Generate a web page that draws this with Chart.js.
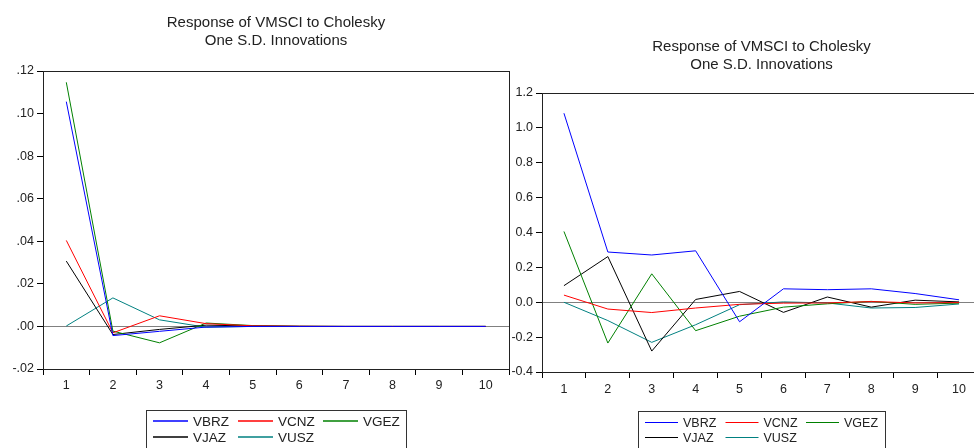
<!DOCTYPE html>
<html>
<head>
<meta charset="utf-8">
<script src="https://cdn.jsdelivr.net/npm/chart.js@4.4.0/dist/chart.umd.min.js"></script>
<style>
  html, body { margin: 0; padding: 0; background: #fff; overflow: hidden; width: 974px; height: 448px; }
  canvas { position: absolute; top: 0; }
  #left { left: 0; }
  #right { left: 490px; }
</style>
</head>
<body>
<canvas id="left" width="520" height="448"></canvas>
<canvas id="right" width="500" height="448"></canvas>
<script>
// ---------- DATA ----------
const categories = ['1', '2', '3', '4', '5', '6', '7', '8', '9', '10'];
const seriesNames = ['VBRZ', 'VCNZ', 'VGEZ', 'VJAZ', 'VUSZ'];
const titleLines = ['Response of VMSCI to Cholesky', 'One S.D. Innovations'];

// Left panel
const leftVBRZ = [0.1056, -0.0043, -0.0023, -0.0003, 0.0000, 0.0000, 0.0000, 0.0000, 0.0000, 0.0000];
const leftVCNZ = [0.0404, -0.0030, 0.0050, 0.0013, 0.0003, 0.0001, 0.0000, 0.0000, 0.0000, 0.0000];
const leftVGEZ = [0.1147, -0.0022, -0.0077, 0.0016, 0.0004, 0.0001, 0.0000, 0.0000, 0.0000, 0.0000];
const leftVJAZ = [0.0307, -0.0038, -0.0014, 0.0006, 0.0002, 0.0000, 0.0000, 0.0000, 0.0000, 0.0000];
const leftVUSZ = [0.0002, 0.0134, 0.0031, -0.0004, 0.0000, 0.0000, 0.0000, 0.0000, 0.0000, 0.0000];
const leftYTickValues = [-0.02, 0.00, 0.02, 0.04, 0.06, 0.08, 0.10, 0.12];
const leftYTickLabels = ['-.02', '.00', '.02', '.04', '.06', '.08', '.10', '.12'];

// Right panel
const rightVBRZ = [1.084, 0.288, 0.271, 0.295, -0.112, 0.077, 0.072, 0.077, 0.050, 0.014];
const rightVCNZ = [0.041, -0.039, -0.059, -0.033, -0.012, -0.005, -0.004, 0.004, -0.004, -0.002];
const rightVGEZ = [0.406, -0.234, 0.163, -0.163, -0.080, -0.028, -0.009, 0.005, -0.012, -0.005];
const rightVJAZ = [0.095, 0.262, -0.280, 0.016, 0.062, -0.058, 0.030, -0.028, 0.012, 0.002];
const rightVUSZ = [0.000, -0.105, -0.230, -0.129, -0.014, 0.002, -0.004, -0.033, -0.030, -0.010];
const rightYTickValues = [-0.4, -0.2, 0.0, 0.2, 0.4, 0.6, 0.8, 1.0, 1.2];
const rightYTickLabels = ['-0.4', '-0.2', '0.0', '0.2', '0.4', '0.6', '0.8', '1.0', '1.2'];

const seriesColors = ['#0000ff', '#ff0000', '#008000', '#000000', '#008080'];

// ---------- PLUGINS ----------
const FONT = '"Liberation Sans", Arial, sans-serif';

const framePlugin = {
  id: 'frame',
  afterDraw(chart) {
    const a = chart.chartArea, ctx = chart.ctx;
    ctx.save();
    ctx.strokeStyle = '#222';
    ctx.lineWidth = 1;
    ctx.strokeRect(Math.round(a.left) + 0.5, Math.round(a.top) + 0.5,
                   Math.round(a.right - a.left), Math.round(a.bottom - a.top));
    ctx.restore();
  }
};

const titlePlugin = {
  id: 'eviewsTitle',
  afterDraw(chart, args, opts) {
    const a = chart.chartArea, ctx = chart.ctx;
    const cx = (a.left + a.right) / 2;
    ctx.save();
    ctx.fillStyle = '#222';
    ctx.font = opts.size + 'px ' + FONT;
    ctx.textAlign = 'center';
    ctx.textBaseline = 'alphabetic';
    opts.lines.forEach((t, i) => ctx.fillText(t, cx, opts.baseline + i * opts.lineGap));
    ctx.restore();
  }
};

const legendPlugin = {
  id: 'eviewsLegend',
  afterDraw(chart, args, o) {
    const ctx = chart.ctx;
    ctx.save();
    ctx.strokeStyle = '#333';
    ctx.lineWidth = 1;
    ctx.strokeRect(o.boxLeft + 0.5, o.boxTop + 0.5, o.boxWidth, 60);
    ctx.font = o.size + 'px ' + FONT;
    ctx.fillStyle = '#222';
    ctx.textAlign = 'left';
    ctx.textBaseline = 'alphabetic';
    chart.data.datasets.forEach((ds, i) => {
      const col = i % 3, row = Math.floor(i / 3);
      const x = o.x0 + col * o.colGap;
      const ly = o.lineY[row];
      ctx.strokeStyle = ds.borderColor;
      ctx.lineWidth = o.lineWidth;
      ctx.beginPath();
      ctx.moveTo(x, ly);
      ctx.lineTo(x + o.lineLen, ly);
      ctx.stroke();
      ctx.fillText(ds.label, x + o.textOff, o.textY[row]);
    });
    ctx.restore();
  }
};

function makeDatasets(arrs) {
  return arrs.map((d, i) => ({
    label: seriesNames[i],
    data: d,
    borderColor: seriesColors[i],
    backgroundColor: seriesColors[i],
    borderWidth: 1,
    pointRadius: 0,
    tension: 0,
    fill: false
  }));
}

function makeChart(id, cfg) {
  return new Chart(document.getElementById(id), {
    type: 'line',
    data: { labels: categories, datasets: makeDatasets(cfg.series) },
    options: {
      responsive: false,
      animation: false,
      devicePixelRatio: 1,
      layout: { padding: cfg.padding },
      plugins: {
        legend: { display: false },
        title: { display: false },
        tooltip: { enabled: false },
        eviewsTitle: cfg.title,
        eviewsLegend: cfg.legend
      },
      scales: {
        x: {
          type: 'category',
          offset: true,
          grid: { offset: true, drawOnChartArea: false, drawTicks: true, tickLength: 6, tickColor: '#000' },
          border: { display: false },
          ticks: { color: '#222', font: { family: FONT, size: cfg.tickSize }, padding: cfg.xPad, maxRotation: 0, autoSkip: false },
          afterFit(s) { s.height = 30; }
        },
        y: {
          min: cfg.yValues[0],
          max: cfg.yValues[cfg.yValues.length - 1],
          afterBuildTicks(s) { s.ticks = cfg.yValues.map(v => ({ value: v })); },
          grid: {
            drawOnChartArea: true,
            drawTicks: true,
            tickLength: 6,
            tickColor: '#000',
            color: c => (c.tick && Math.abs(c.tick.value) < 1e-9) ? '#808080' : 'rgba(0,0,0,0)',
            lineWidth: 1
          },
          border: { display: false },
          ticks: {
            color: '#222',
            font: { family: FONT, size: cfg.tickSize },
            padding: 3,
            callback: (v, i) => cfg.yLabels[i]
          },
          afterFit(s) { s.width = cfg.yWidth; }
        }
      }
    },
    plugins: [framePlugin, titlePlugin, legendPlugin]
  });
}

makeChart('left', {
  series: [leftVBRZ, leftVCNZ, leftVGEZ, leftVJAZ, leftVUSZ],
  yValues: leftYTickValues,
  yLabels: leftYTickLabels,
  yWidth: 43,
  tickSize: 12.5,
  xPad: 3,
  padding: { left: 0, right: 11, top: 71, bottom: 49 },
  title: { lines: titleLines, size: 15, baseline: 27, lineGap: 18.3 },
  legend: { boxLeft: 146, boxTop: 410, boxWidth: 260, x0: 153, colGap: 85, lineLen: 35, textOff: 40,
            lineY: [421, 437], textY: [426, 442], size: 13.5, lineWidth: 1.6 }
});

makeChart('right', {
  series: [rightVBRZ, rightVCNZ, rightVGEZ, rightVJAZ, rightVUSZ],
  yValues: rightYTickValues,
  yLabels: rightYTickLabels,
  yWidth: 52,
  tickSize: 12.5,
  xPad: 4,
  padding: { left: 0, right: 9, top: 93, bottom: 46 },
  title: { lines: titleLines, size: 15, baseline: 51, lineGap: 17.5 },
  legend: { boxLeft: 148, boxTop: 411, boxWidth: 247, x0: 155, colGap: 80.5, lineLen: 33, textOff: 38,
            lineY: [422.5, 437.5], textY: [426.5, 442], size: 12.5, lineWidth: 1 }
});
</script>
</body>
</html>
